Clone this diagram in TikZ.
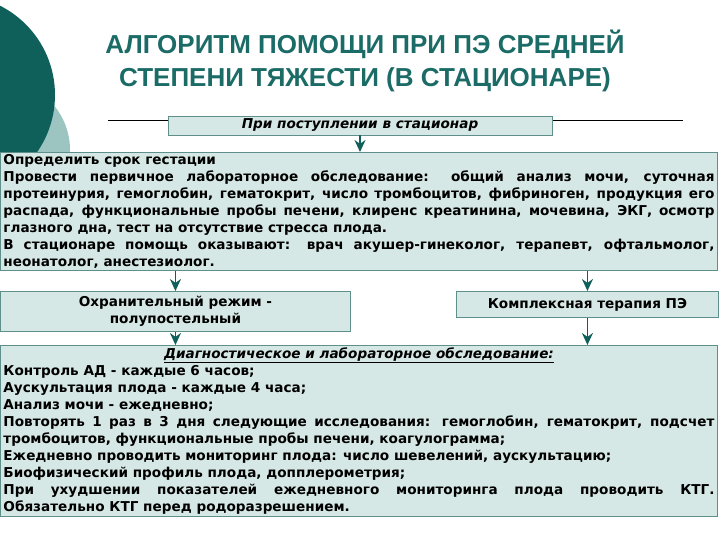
\documentclass[tikz,border=0pt]{standalone}
\usepackage{fontspec}
\setmainfont{DejaVu Sans}
\newfontfamily\titlefont{Liberation Sans}
\usetikzlibrary{arrows.meta}
\definecolor{teal1}{HTML}{1B6B66}
\definecolor{teal2}{HTML}{0F5F5A}
\definecolor{lteal}{HTML}{9CC4C0}
\definecolor{boxfill}{HTML}{D6E8E5}
\definecolor{boxline}{HTML}{5F8F8A}
\tikzset{
  bx/.style={draw=boxline, fill=boxfill, line width=0.9pt, inner sep=3pt, font=\bfseries\fontsize{13.6}{17}\selectfont},
  arr/.style={-{Stealth[length=12pt,width=11pt]}, draw=teal2, fill=teal2, line width=1.6pt}
}
\begin{document}
\begin{tikzpicture}[x=1pt,y=-1pt]
\useasboundingbox (0,0) rectangle (720,540);
\fill[lteal] (0,150) circle (70);
\fill[teal2] (-45,95) circle (100);
\fill[white] (0,152) rectangle (720,540);
\node[font=\titlefont\bfseries\fontsize{26}{33}\selectfont, text=teal1, align=center] (title) at (365,61) {АЛГОРИТМ ПОМОЩИ ПРИ ПЭ СРЕДНЕЙ\\СТЕПЕНИ ТЯЖЕСТИ (В СТАЦИОНАРЕ)};
\coordinate (l1) at (108,120);
\coordinate (l2) at (683,120);
\draw[line width=0.6pt] (l1) -- (l2);
\node[bx, minimum width=384, minimum height=19, inner ysep=1pt, font=\bfseries\itshape\fontsize{13.6}{14}\selectfont] (adm) at (360,125.5) {При поступлении в стационар};
\node[bx, anchor=north west, text width=711, align=justify, inner sep=3pt, inner ysep=2pt] (main) at (0,152) {Определить срок гестации\\
Провести первичное лабораторное обследование: общий анализ мочи, суточная\linebreak
протеинурия, гемоглобин, гематокрит, число тромбоцитов, фибриноген, продукция его\linebreak
распада, функциональные пробы печени, клиренс креатинина, мочевина, ЭКГ, осмотр\linebreak
глазного дна, тест на отсутствие стресса плода.\\
В стационаре помощь оказывают: врач акушер-гинеколог, терапевт, офтальмолог,\linebreak
неонатолог, анестезиолог.};
\node[bx, anchor=north west, minimum width=350, minimum height=40, align=center, inner ysep=1pt, font=\bfseries\fontsize{13.6}{17}\selectfont] (left) at (0,291) {Охранительный режим -\\полупостельный};
\node[bx, anchor=north west, minimum width=262, minimum height=26] (right) at (456,291) {Комплексная терапия ПЭ};
\node[bx, anchor=north west, text width=711, align=justify, inner sep=3pt, inner ysep=2pt] (diag) at (0,345) {\hspace*{\fill}\underline{\itshape Диагностическое и лабораторное обследование:}\hspace*{\fill}\\
Контроль АД - каждые 6 часов;\\
Аускультация плода - каждые 4 часа;\\
Анализ мочи - ежедневно;\\
Повторять 1 раз в 3 дня следующие исследования: гемоглобин, гематокрит, подсчет\linebreak
тромбоцитов, функциональные пробы печени, коагулограмма;\\
Ежедневно проводить мониторинг плода: число шевелений, аускультацию;\\
Биофизический профиль плода, допплерометрия;\\
При ухудшении показателей ежедневного мониторинга плода проводить КТГ.\linebreak
Обязательно КТГ перед родоразрешением.};
\draw[arr] (adm.south) -- (main.north -| adm.south);
\draw[arr] (main.south -| left.north) -- (left.north);
\draw[arr] (main.south -| right.north) -- (right.north);
\draw[arr] (left.south) -- (diag.north -| left.south);
\draw[arr] (right.south) -- (diag.north -| right.south);
\end{tikzpicture}
\end{document}
